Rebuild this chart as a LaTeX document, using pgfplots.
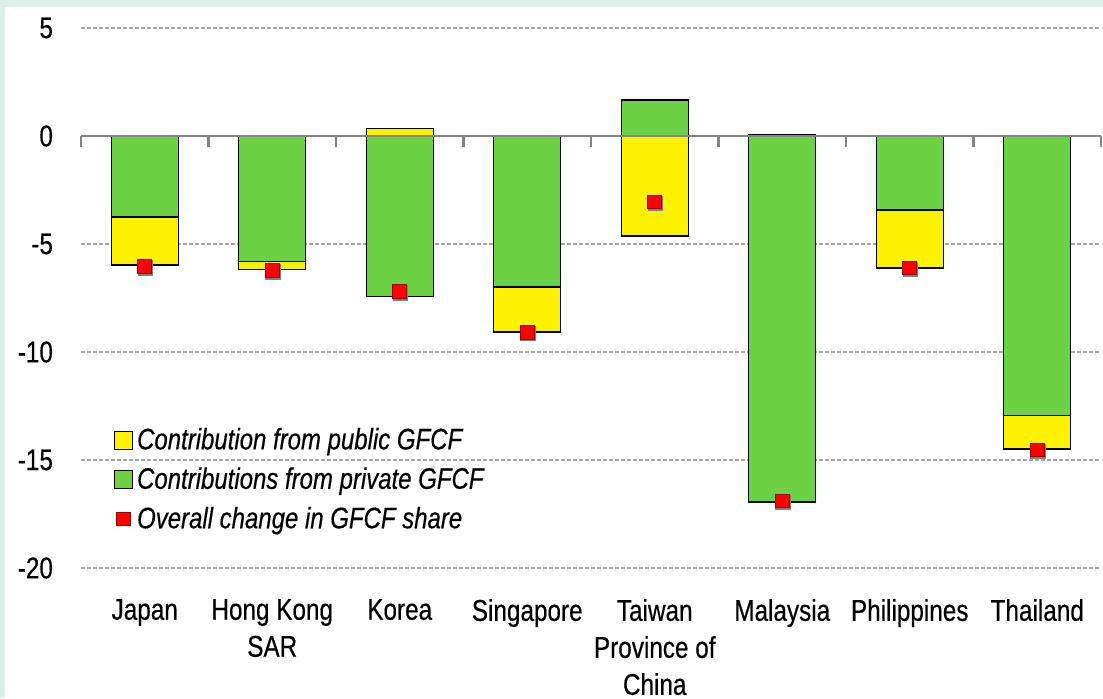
\documentclass[border=0pt]{standalone}
\usepackage{pgfplots}
\pgfplotsset{compat=1.18}
\usepackage{fontspec}
\setmainfont{Liberation Sans}[FakeStretch=0.81, FakeBold=0.4]
\definecolor{mint}{HTML}{DAF0E8}
\definecolor{bargreen}{HTML}{6CD243}
\definecolor{gridgray}{HTML}{A6A6A6}
\definecolor{zerogray}{HTML}{858585}
\pgfplotsset{
  boxlegend/.style={legend image code/.code={\draw[##1] (0pt,-4.5pt) rectangle (9pt,4.5pt);}},
  marklegend/.style={legend image code/.code={\draw[##1] plot coordinates {(4.5pt,0pt)};}},
}
\begin{document}
\begin{tikzpicture}
\fill[mint] (0,0) rectangle (551.5pt,349pt);
\fill[white] (2.5pt,0) rectangle (551.5pt,345.5pt);
\useasboundingbox (0,0) rectangle (551.5pt,349pt);
\begin{axis}[
  at={(40.5pt,65pt)}, anchor=south west,
  scale only axis, width=510pt, height=270pt,
  xmin=-0.5, xmax=7.5, ymin=-20, ymax=5,
  ytick={-20,-15,...,5},
  axis line style={draw=none},
  ymajorgrids,
  grid style={gridgray, dash pattern=on 2pt off 1pt, line width=0.7pt},
  major tick length=0pt,
  xtick={0,...,7},
  xticklabels={Japan, Hong Kong\\SAR, Korea, Singapore, Taiwan\\Province of\\China, Malaysia, Philippines, Thailand},
  xticklabel style={align=center, font=\fontsize{15}{18.5}\selectfont, anchor=north, yshift=-12pt},
  yticklabel style={font=\fontsize{15}{18}\selectfont, xshift=-10.5pt},
  /pgf/number format/assume math mode=true,
  clip=false,
  legend style={at={(0.026,0.275)}, anchor=north west, draw=none, fill=none,
    font=\fontsize{14.8}{16}\selectfont\itshape, row sep=3.5pt,
    legend cell align=left},
]
% yellow: end of the public contribution bar (stacked where same sign)
\addplot[ybar, bar width=33.5pt, bar shift=0pt, fill=yellow, draw=black, line width=0.6pt, boxlegend]
  coordinates {(0,-5.97) (1,-6.19) (2,0.35) (3,-9.07) (4,-4.63) (5,0.05) (6,-6.11) (7,-14.49)};
\addlegendentry{Contribution from public GFCF}
\addplot[ybar, bar width=33.5pt, bar shift=0pt, fill=bargreen, draw=black, line width=0.6pt, boxlegend]
  coordinates {(0,-3.75) (1,-5.80) (2,-7.42) (3,-6.99) (4,1.67) (5,-16.94) (6,-3.43) (7,-12.95)};
\addlegendentry{Contributions from private GFCF}
\draw[zerogray, line width=1.1pt] (axis cs:-0.5,0) -- (axis cs:7.5,0);
\draw[zerogray, line width=1.1pt]
  (axis cs:-0.5,0) -- (axis cs:-0.5,-0.5)
  (axis cs:0.5,0) -- (axis cs:0.5,-0.5)
  (axis cs:1.5,0) -- (axis cs:1.5,-0.5)
  (axis cs:2.5,0) -- (axis cs:2.5,-0.5)
  (axis cs:3.5,0) -- (axis cs:3.5,-0.5)
  (axis cs:4.5,0) -- (axis cs:4.5,-0.5)
  (axis cs:5.5,0) -- (axis cs:5.5,-0.5)
  (axis cs:6.5,0) -- (axis cs:6.5,-0.5)
  (axis cs:7.5,0) -- (axis cs:7.5,-0.5);
\addplot[only marks, forget plot, mark=square*, mark size=3.6pt,
  mark options={fill=gray, draw=gray}, xshift=0.4pt, yshift=-0.6pt]
  coordinates {(0,-6.05) (1,-6.23) (2,-7.21) (3,-9.09) (4,-3.06) (5,-16.9) (6,-6.11) (7,-14.54)};
\addplot[only marks, mark=square*, mark size=3.4pt,
  mark options={fill=red, draw=red!60!black, line width=0.5pt}, marklegend]
  coordinates {(0,-6.05) (1,-6.23) (2,-7.21) (3,-9.09) (4,-3.06) (5,-16.9) (6,-6.11) (7,-14.54)};
\addlegendentry{Overall change in GFCF share}
\end{axis}
\end{tikzpicture}
\end{document}
